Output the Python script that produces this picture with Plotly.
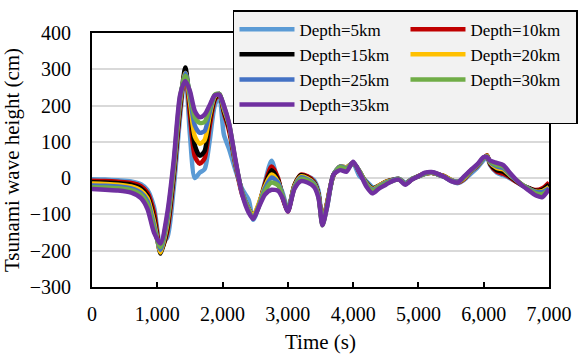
import plotly.graph_objects as go

time_s = [0, 200, 400, 600, 750, 850, 950, 1050, 1150, 1250, 1350, 1430, 1500, 1575, 1650, 1725,
          1800, 1880, 1950, 2020, 2100, 2200, 2300, 2400, 2470, 2550, 2650, 2750, 2850, 2920,
          3000, 3100, 3200, 3300, 3400, 3470, 3530, 3600, 3700, 3800, 3900, 4000, 4100, 4200,
          4300, 4400, 4500, 4600, 4700, 4800, 4900, 5000, 5100, 5200, 5300, 5400, 5500, 5600,
          5700, 5800, 5900, 6000, 6050, 6100, 6200, 6300, 6400, 6500, 6600, 6700, 6800, 6900, 7000]

depth_5km = [-3, -4, -6, -9, -17, -33, -80, -180, -165, -30, 170, 295, 120, 0, 15, 25,
             100, 200, 225, 120, 80, 20, -30, -60, -115, -80, -10, 48, -10, -40,
             -85, -25, 5, 5, -5, -35, -125, -80, 10, 30, 28, 40, 5, -8,
             -25, -22, -12, -8, -2, -12, -2, 5, 12, 15, 10, 3, -8, -14,
             -5, 12, 28, 50, 58, 35, 15, 8, 0, -10, -22, -30, -35, -30, -15]
depth_10km = [-7, -8, -10, -13, -22, -40, -95, -200, -150, 0, 190, 298, 175, 60, 40, 55,
              140, 215, 232, 180, 130, 35, -45, -85, -108, -78, -15, 32, 0, -55,
              -92, -20, 10, 5, -10, -45, -122, -70, 8, 30, 28, 42, 15, -15,
              -30, -20, -10, -5, -3, -15, -3, 6, 13, 15, 10, 5, -6, -12,
              -2, 18, 33, 55, 63, 38, 18, 12, 2, -10, -20, -28, -33, -28, -12]
depth_15km = [-11, -12, -14, -18, -28, -48, -110, -208, -140, 10, 200, 305, 200, 90, 62, 75,
              160, 220, 232, 185, 140, 40, -40, -85, -105, -75, -20, 22, -5, -50,
              -90, -20, 8, 2, -12, -45, -125, -70, 10, 32, 30, 42, 18, -12,
              -28, -20, -10, -5, -2, -15, -3, 5, 12, 15, 10, 5, -5, -10,
              0, 20, 35, 55, 62, 40, 22, 18, 5, -8, -20, -28, -35, -32, -18]
depth_20km = [-15, -16, -18, -23, -34, -55, -120, -205, -130, 20, 210, 290, 210, 115, 95, 105,
              170, 225, 232, 190, 145, 40, -40, -85, -105, -72, -22, 10, -10, -48,
              -88, -22, 5, 0, -14, -48, -126, -70, 10, 32, 30, 42, 18, -14,
              -30, -20, -10, -6, -2, -15, -3, 5, 12, 15, 10, 5, -5, -10,
              0, 20, 35, 55, 62, 42, 28, 24, 8, -6, -20, -30, -37, -36, -25]
depth_25km = [-20, -21, -23, -28, -40, -63, -130, -198, -120, 28, 218, 290, 225, 145, 125, 130,
              180, 228, 232, 195, 148, 42, -40, -88, -112, -78, -28, 2, -12, -48,
              -88, -25, 2, -3, -15, -50, -128, -75, 10, 32, 28, 42, 18, -16,
              -32, -22, -12, -6, -2, -15, -3, 5, 12, 16, 10, 3, -6, -10,
              2, 20, 35, 55, 60, 44, 32, 28, 10, -6, -20, -30, -38, -38, -28]
depth_30km = [-25, -26, -28, -33, -46, -72, -140, -190, -110, 35, 225, 282, 235, 168, 152, 155,
              192, 230, 232, 198, 150, 45, -42, -90, -110, -80, -35, -12, -20, -50,
              -88, -28, -2, -6, -18, -52, -130, -78, 10, 30, 25, 42, 18, -18,
              -35, -24, -14, -8, -3, -16, -3, 5, 13, 16, 11, 3, -7, -12,
              2, 20, 36, 56, 60, 46, 36, 32, 12, -5, -20, -32, -42, -44, -32]
depth_35km = [-30, -32, -34, -40, -55, -85, -150, -180, -100, 45, 230, 268, 240, 185, 168, 175,
              200, 228, 230, 200, 150, 48, -45, -95, -112, -82, -45, -32, -35, -55,
              -92, -30, -8, -12, -24, -55, -130, -80, 10, 22, 18, 45, 15, -22,
              -42, -28, -18, -8, -4, -18, -4, 5, 15, 17, 12, 3, -8, -12,
              5, 22, 38, 58, 58, 48, 42, 36, 15, -5, -22, -35, -48, -52, -30]

series_names = ["Depth=5km", "Depth=10km", "Depth=15km", "Depth=20km",
                "Depth=25km", "Depth=30km", "Depth=35km"]
series_values = [depth_5km, depth_10km, depth_15km, depth_20km, depth_25km, depth_30km, depth_35km]
series_colors = ["#5B9BD5", "#C00000", "#000000", "#FFC000", "#4472C4", "#70AD47", "#7030A0"]

x_ticks = [0, 1000, 2000, 3000, 4000, 5000, 6000, 7000]
y_ticks = [-300, -200, -100, 0, 100, 200, 300, 400]

FONT = "Liberation Serif"

fig = go.Figure()
for name, vals, col in zip(series_names, series_values, series_colors):
    fig.add_trace(go.Scatter(
        x=time_s, y=vals, name=name, mode="lines",
        line=dict(color=col, width=4.5, shape="spline", smoothing=0.7),
    ))

fig.update_layout(
    width=579, height=354,
    margin=dict(l=92, r=30, t=33, b=67, autoexpand=False),
    paper_bgcolor="white", plot_bgcolor="white",
    font=dict(family=FONT, size=20, color="black"),
    showlegend=True,
    legend=dict(
        orientation="h", x=0.3085, y=1.09, xanchor="left", yanchor="top",
        bgcolor="#F2F2F2", bordercolor="black", borderwidth=1.5,
        font=dict(family=FONT, size=17, color="black"),
        entrywidth=101, entrywidthmode="pixels", itemwidth=55,
        tracegroupgap=0,
    ),
    xaxis=dict(
        range=[0, 7000], tickvals=x_ticks, tickformat=",",
        showgrid=False, zeroline=False, automargin=False,
        showline=True, linecolor="black", linewidth=2, mirror=True,
        ticks="inside", ticklen=5, tickcolor="black", tickwidth=1.5,
        ticklabelstandoff=8,
        title=dict(text="Time (s)", font=dict(family=FONT, size=21), standoff=11),
        tickfont=dict(family=FONT, size=20),
    ),
    yaxis=dict(
        range=[-300, 400], tickvals=y_ticks,
        showgrid=True, gridcolor="#D9D9D9", gridwidth=2, zeroline=False, automargin=False,
        showline=True, linecolor="black", linewidth=2, mirror=True,
        ticks="", ticklabelstandoff=15,
        title=dict(text="Tsunami wave height (cm)", font=dict(family=FONT, size=21), standoff=8),
        tickfont=dict(family=FONT, size=20),
    ),
)

fig.write_html("out.html")
